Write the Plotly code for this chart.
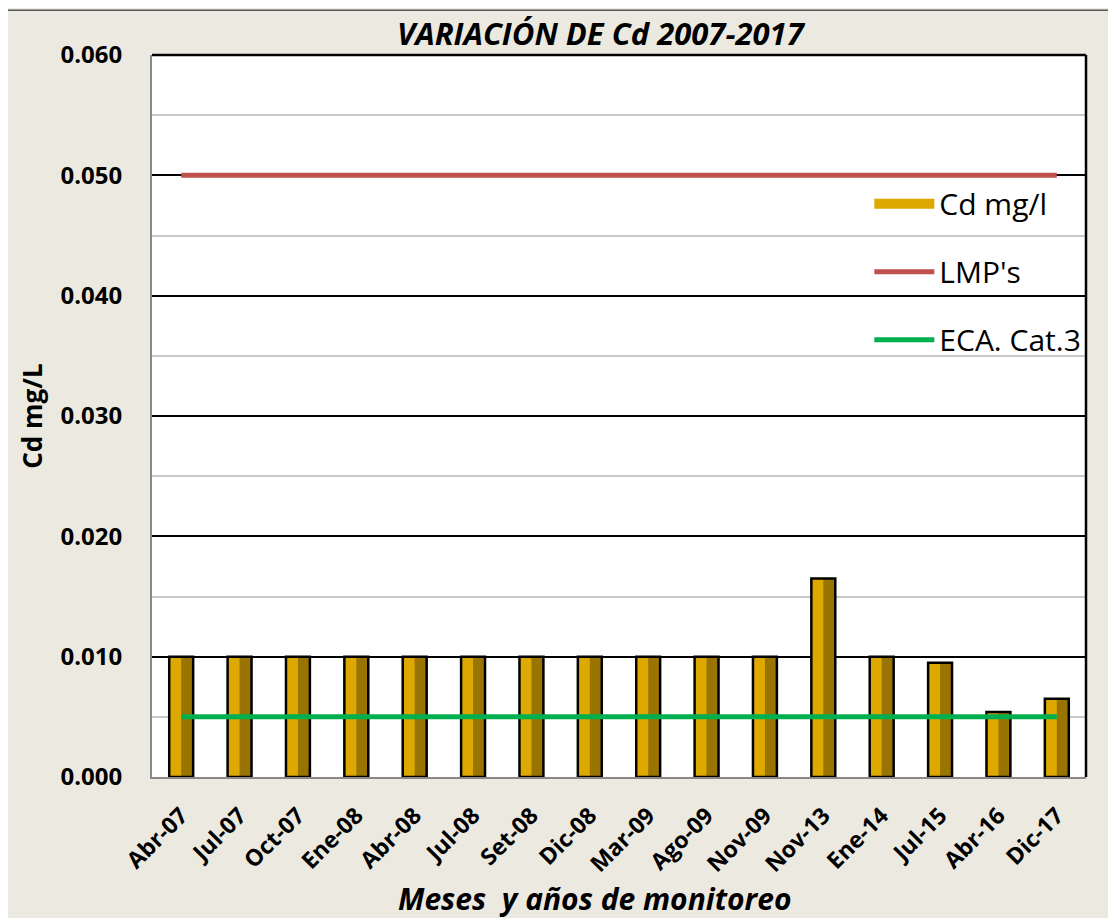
import plotly.graph_objects as go

MONTHS = [
    "Abr-07", "Jul-07", "Oct-07", "Ene-08", "Abr-08", "Jul-08", "Set-08", "Dic-08",
    "Mar-09", "Ago-09", "Nov-09", "Nov-13", "Ene-14", "Jul-15", "Abr-16", "Dic-17",
]
CD_VALUES = [
    0.010, 0.010, 0.010, 0.010, 0.010, 0.010, 0.010, 0.010,
    0.010, 0.010, 0.010, 0.0165, 0.010, 0.0095, 0.0054, 0.0065,
]
LMP_VALUES = [0.050] * len(MONTHS)
ECA_VALUES = [0.005] * len(MONTHS)

BG = "#ECEAE0"
GOLD = "#DDA800"
BAR_W = 0.41


def main():
    fig = go.Figure()

    # gold bar, dark right half, then outline on top (fake bevel)
    fig.add_trace(go.Bar(
        x=MONTHS, y=CD_VALUES, width=BAR_W, name="Cd mg/l", showlegend=False,
        marker=dict(color=GOLD, line=dict(width=0)),
    ))
    fig.add_trace(go.Bar(
        x=MONTHS, y=CD_VALUES, width=BAR_W / 2, offset=0, showlegend=False,
        marker=dict(color="#9A7400", line=dict(width=0)), hoverinfo="skip",
    ))
    fig.add_trace(go.Bar(
        x=MONTHS, y=CD_VALUES, width=BAR_W, showlegend=False,
        marker=dict(color="rgba(0,0,0,0)", line=dict(color="black", width=2.5)),
        hoverinfo="skip",
    ))
    # legend entry for the bars: a wide gold swatch
    fig.add_trace(go.Scatter(
        x=[None], y=[None], mode="lines", name="Cd mg/l",
        line=dict(color=GOLD, width=14), legendgroup="a",
    ))

    fig.add_trace(go.Scatter(
        x=MONTHS, y=LMP_VALUES, mode="lines", name="LMP's",
        line=dict(color="#C0504D", width=5), legendgroup="b",
    ))
    fig.add_trace(go.Scatter(
        x=MONTHS, y=ECA_VALUES, mode="lines", name="ECA. Cat.3",
        line=dict(color="#00B050", width=5), legendgroup="c",
    ))

    # page body has an 8px margin, so margins are shifted by that
    fig.update_layout(
        width=1116, height=918,
        barmode="overlay",
        paper_bgcolor=BG, plot_bgcolor="white",
        margin=dict(l=144, r=38, t=47, b=149, autoexpand=False),
        font=dict(family="Open Sans, Liberation Sans, sans-serif", color="black"),
        title=dict(
            text="<b><i>VARIACIÓN DE Cd 2007-2017</i></b>",
            x=0.48, xanchor="center", xref="paper",
            y=0.972, yanchor="middle",
            font=dict(size=31),
        ),
        legend=dict(
            x=0.768, y=0.83, xanchor="left", yanchor="top",
            bgcolor="rgba(0,0,0,0)", font=dict(size=30),
            tracegroupgap=26, itemwidth=60,
        ),
        showlegend=True,
        annotations=[
            dict(text="<b><i>Meses  y años de monitoreo</i></b>", xref="paper", yref="paper",
                 x=0.474, y=-0.168, xanchor="center", yanchor="middle",
                 showarrow=False, font=dict(size=30)),
        ],
        shapes=[
            dict(type="line", xref="paper", yref="paper", x0=0, x1=1, y0=1, y1=1,
                 line=dict(color="black", width=2.5)),
            dict(type="line", xref="paper", yref="paper", x0=1, x1=1, y0=0, y1=1,
                 line=dict(color="black", width=2.5)),
            dict(type="line", xref="paper", yref="paper", x0=-0.155, x1=1.05,
                 y0=1.062, y1=1.062, line=dict(color="#555555", width=1.5)),
            dict(type="line", xref="paper", yref="paper", x0=-0.155, x1=-0.155,
                 y0=-0.2, y1=1.062, line=dict(color="#555555", width=1.5)),
        ],
    )

    fig.update_xaxes(
        type="category",
        tickangle=-45,
        tickfont=dict(size=23),
        showline=True, linecolor="#888888", linewidth=2,
        showgrid=False, automargin=False,
        ticks="outside", ticklen=14, tickcolor="rgba(0,0,0,0)",
        tickprefix="<b>", ticksuffix="</b>",
    )
    fig.update_yaxes(
        range=[0, 0.060], dtick=0.010, tickformat=".3f",
        tickfont=dict(size=24),
        tickprefix="<b>", ticksuffix="</b>",
        showline=True, linecolor="#888888", linewidth=2,
        gridcolor="black", gridwidth=2,
        minor=dict(dtick=0.005, showgrid=True, gridcolor="#C8C8C8", gridwidth=2),
        ticks="", ticklabelstandoff=23, automargin=False,
        title=dict(text="<b>Cd mg/L</b>", font=dict(size=26), standoff=10),
        zeroline=False,
    )

    fig.write_html("out.html")


if __name__ == "__main__":
    main()
